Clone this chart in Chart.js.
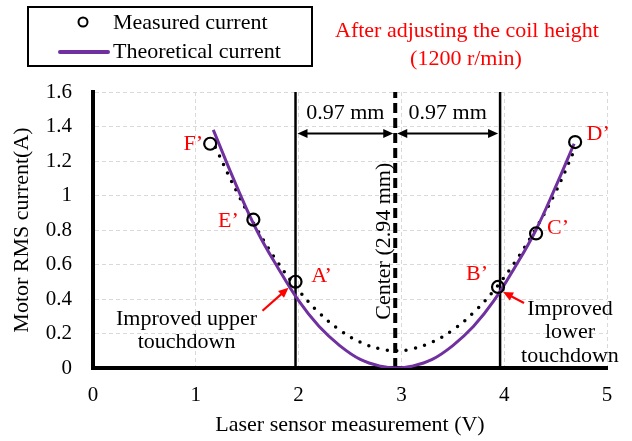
<!DOCTYPE html>
<html>
<head>
<meta charset="utf-8">
<script src="https://cdn.jsdelivr.net/npm/chart.js@4.4.0/dist/chart.umd.min.js"></script>
<style>
  html, body { margin: 0; padding: 0; background: #fff; }
  #wrap { width: 632px; height: 441px; }
</style>
</head>
<body>
<div id="wrap"><canvas id="currentChart" width="632" height="441"></canvas></div>
<script>
// Measured RMS current (circles)
const measuredX = [1.14, 1.56, 1.97, 3.94, 4.31, 4.69];
const measuredY = [1.30, 0.86, 0.50, 0.47, 0.78, 1.31];
const pointNames = ['F’', 'E’', 'A’', 'B’', 'C’', 'D’'];

// Theoretical current (purple curve)
const theoryX = [1.17, 1.4, 1.6, 1.8, 2.0, 2.2, 2.4, 2.6, 2.8, 2.95, 3.1, 3.3, 3.5, 3.7, 3.9, 4.1, 4.3, 4.5, 4.68];
const theoryY = [1.38, 1.05, 0.79, 0.58, 0.39, 0.24, 0.13, 0.05, 0.01, 0.0, 0.01, 0.05, 0.13, 0.24, 0.39, 0.58, 0.79, 1.05, 1.30];

// Dotted trend through the measured points
const trendX = [1.19, 1.4, 1.6, 1.8, 2.0, 2.2, 2.4, 2.6, 2.8, 2.95, 3.1, 3.3, 3.5, 3.7, 3.9, 4.1, 4.3, 4.5, 4.68];
const trendY = [1.28, 1.02, 0.80, 0.61, 0.45, 0.32, 0.22, 0.15, 0.11, 0.10, 0.11, 0.15, 0.22, 0.32, 0.45, 0.61, 0.80, 1.02, 1.26];

// Touchdown lines and center line
const touchdownX = [1.97, 3.96];
const centerX = 2.94;
const gapLabels = ['0.97 mm', '0.97 mm'];
const gapArrowY = 1.36;

// Axes
const xMin = 0, xMax = 5, xStep = 1;
const yMin = 0, yMax = 1.6, yStep = 0.2;

const FONT = "'Liberation Serif', 'Times New Roman', serif";
const PURPLE = '#7030A0';
const RED = '#FF0000';

const toPoints = (xs, ys) => xs.map((x, i) => ({ x: x, y: ys[i] }));
const vLine = (x) => [{ x: x, y: yMin }, { x: x, y: yMax }];

function text(ctx, str, x, y, align, color, size) {
    ctx.save();
    ctx.font = (size || 22) + 'px ' + FONT;
    ctx.fillStyle = color || '#000';
    ctx.textAlign = align || 'center';
    ctx.textBaseline = 'alphabetic';
    ctx.fillText(str, x, y);
    ctx.restore();
}

function arrowHead(ctx, x1, y1, x2, y2, len, half) {
    const a = Math.atan2(y2 - y1, x2 - x1);
    ctx.beginPath();
    ctx.moveTo(x2, y2);
    ctx.lineTo(x2 - len * Math.cos(a) + half * Math.sin(a), y2 - len * Math.sin(a) - half * Math.cos(a));
    ctx.lineTo(x2 - len * Math.cos(a) - half * Math.sin(a), y2 - len * Math.sin(a) + half * Math.cos(a));
    ctx.closePath();
    ctx.fill();
}

function arrow(ctx, x1, y1, x2, y2, color, width, both) {
    ctx.save();
    ctx.strokeStyle = color;
    ctx.fillStyle = color;
    ctx.lineWidth = width;
    const a = Math.atan2(y2 - y1, x2 - x1);
    const sx = both ? x1 + 7 * Math.cos(a) : x1, sy = both ? y1 + 7 * Math.sin(a) : y1;
    ctx.beginPath();
    ctx.moveTo(sx, sy);
    ctx.lineTo(x2 - 7 * Math.cos(a), y2 - 7 * Math.sin(a));
    ctx.stroke();
    arrowHead(ctx, x1, y1, x2, y2, 10, 4.5);
    if (both) arrowHead(ctx, x2, y2, x1, y1, 10, 4.5);
    ctx.restore();
}

// Annotations: arrows, point names, notes, legend and title
const annotations = {
    id: 'annotations',
    afterDatasetsDraw(chart) {
        const ctx = chart.ctx;
        const xs = chart.scales.x, ys = chart.scales.y;

        // gap arrows between the touchdown lines and the center line
        const stops = [touchdownX[0], centerX, touchdownX[1]];
        const ay = ys.getPixelForValue(gapArrowY);
        for (let i = 0; i < 2; i++) {
            const x1 = xs.getPixelForValue(stops[i]) + 2;
            const x2 = xs.getPixelForValue(stops[i + 1]) - 2;
            arrow(ctx, x1, ay, x2, ay, '#000', 2, true);
            text(ctx, gapLabels[i], (x1 + x2) / 2, ay - 14);
        }

        // red point names
        const offs = [[-17, -1], [-25, 0], [26, -7], [-21, -14], [22, -6], [23, -9]];
        pointNames.forEach((name, i) => {
            const px = xs.getPixelForValue(measuredX[i]);
            const py = ys.getPixelForValue(measuredY[i]);
            text(ctx, name, px + offs[i][0], py + offs[i][1] + 7, 'center', RED);
        });

        // red arrows to A' and B'
        const ax = xs.getPixelForValue(measuredX[2]), ayA = ys.getPixelForValue(measuredY[2]);
        arrow(ctx, ax - 33, ayA + 29, ax - 7, ayA + 6, RED, 2.2, false);
        const bx = xs.getPixelForValue(measuredX[3]), byB = ys.getPixelForValue(measuredY[3]);
        arrow(ctx, bx + 26, byB + 16, bx + 5, byB + 5, RED, 2.2, false);

        // notes
        const upX = xs.getPixelForValue(0.91);
        text(ctx, 'Improved upper', upX, ys.getPixelForValue(0.25));
        text(ctx, 'touchdown', upX, ys.getPixelForValue(0.116));
        const loX = xs.getPixelForValue(4.64);
        text(ctx, 'Improved', loX, ys.getPixelForValue(0.307));
        text(ctx, 'lower', loX, ys.getPixelForValue(0.174));
        text(ctx, 'touchdown', loX, ys.getPixelForValue(0.035));

        // rotated center label
        ctx.save();
        ctx.translate(xs.getPixelForValue(centerX) - 5, ys.getPixelForValue(0.735));
        ctx.rotate(-Math.PI / 2);
        text(ctx, 'Center (2.94 mm)', 0, 0);
        ctx.restore();
    },
    afterDraw(chart) {
        const ctx = chart.ctx;
        // legend box
        ctx.save();
        ctx.strokeStyle = '#000';
        ctx.lineWidth = 2;
        ctx.strokeRect(28, 7, 284, 59);
        ctx.lineWidth = 2;
        ctx.beginPath();
        ctx.arc(83, 22, 4.5, 0, Math.PI * 2);
        ctx.stroke();
        ctx.strokeStyle = PURPLE;
        ctx.lineWidth = 4;
        ctx.lineCap = 'round';
        ctx.beginPath();
        ctx.moveTo(60, 52);
        ctx.lineTo(108, 52);
        ctx.stroke();
        ctx.restore();
        text(ctx, 'Measured current', 113, 29, 'left');
        text(ctx, 'Theoretical current', 113, 58, 'left');

        // title
        text(ctx, 'After adjusting the coil height', 467, 37, 'center', RED);
        text(ctx, '(1200 r/min)', 466, 65, 'center', RED);
    }
};

new Chart(document.getElementById('currentChart'), {
    type: 'scatter',
    data: {
        datasets: [
            {
                label: 'Measured current',
                data: toPoints(measuredX, measuredY),
                pointStyle: 'circle',
                pointRadius: 6,
                pointBorderWidth: 2.2,
                pointBorderColor: '#000',
                pointBackgroundColor: 'rgba(0,0,0,0)',
                showLine: false
            },
            {
                label: 'Theoretical current',
                data: toPoints(theoryX, theoryY),
                showLine: true,
                borderColor: PURPLE,
                borderWidth: 3,
                tension: 0.4,
                pointRadius: 0
            },
            {
                label: 'Trend',
                data: toPoints(trendX, trendY),
                showLine: true,
                borderColor: '#000',
                borderWidth: 3.5,
                borderDash: [0, 9.5],
                borderCapStyle: 'round',
                tension: 0.4,
                pointRadius: 0
            },
            {
                label: 'Upper touchdown',
                data: vLine(touchdownX[0]),
                showLine: true,
                borderColor: '#000',
                borderWidth: 2.5,
                pointRadius: 0
            },
            {
                label: 'Center',
                data: vLine(centerX),
                showLine: true,
                borderColor: '#000',
                borderWidth: 4,
                borderDash: [10, 5],
                pointRadius: 0
            },
            {
                label: 'Lower touchdown',
                data: vLine(touchdownX[1]),
                showLine: true,
                borderColor: '#000',
                borderWidth: 2.5,
                pointRadius: 0
            }
        ]
    },
    options: {
        responsive: false,
        animation: false,
        layout: { padding: { top: 92, right: 25, left: 0, bottom: 0 } },
        plugins: {
            legend: { display: false },
            tooltip: { enabled: false }
        },
        scales: {
            x: {
                type: 'linear',
                min: xMin,
                max: xMax,
                afterFit: (s) => { s.height = 73; },
                ticks: { stepSize: xStep, color: '#000', padding: 15, font: { family: FONT, size: 21 } },
                grid: { color: '#d9d9d9', lineWidth: 1, drawTicks: false },
                border: { display: true, color: '#000', width: 4, dash: [4, 3] },
                title: {
                    display: true,
                    text: 'Laser sensor measurement (V)',
                    color: '#000',
                    font: { family: FONT, size: 22 },
                    padding: { top: 0, bottom: 3 }
                }
            },
            y: {
                min: yMin,
                max: yMax,
                afterFit: (s) => { s.width = 93; },
                ticks: {
                    stepSize: yStep,
                    color: '#000',
                    padding: 21,
                    font: { family: FONT, size: 21 },
                    callback: (v) => String(Number(v.toFixed(1)))
                },
                grid: { color: '#d9d9d9', lineWidth: 1, drawTicks: false },
                border: { display: true, color: '#000', width: 4, dash: [4, 3] },
                title: {
                    display: true,
                    text: 'Motor RMS current(A)',
                    color: '#000',
                    font: { family: FONT, size: 22 },
                    padding: { top: 9, bottom: 0 }
                }
            }
        }
    },
    plugins: [annotations]
});
</script>
</body>
</html>
